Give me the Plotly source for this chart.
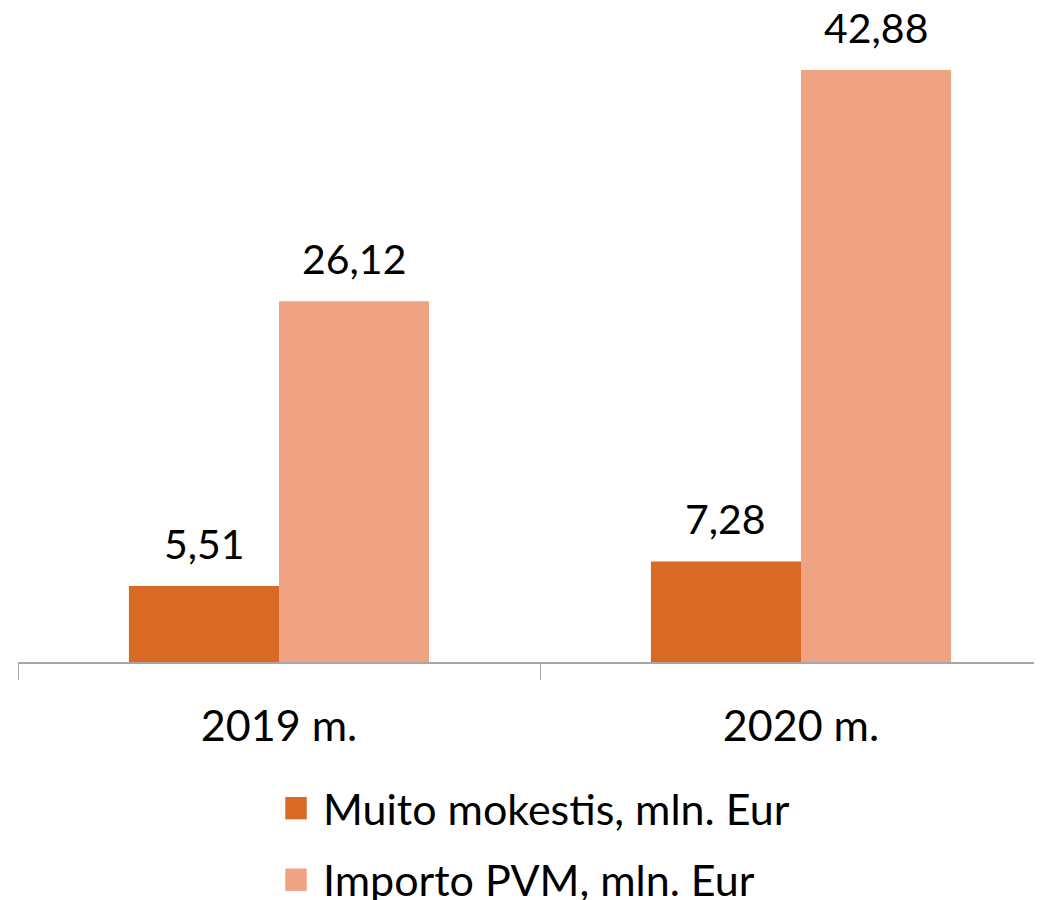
import plotly.graph_objects as go

years = ["2019 m.", "2020 m."]
muito = [5.51, 7.28]
importo = [26.12, 42.88]
series_names = ["Muito mokestis, mln. Eur", "Importo PVM, mln. Eur"]
series_colors = ["#D86A26", "#EFA383"]

FONT = "Lato"

fig = go.Figure()

for name, vals, color in zip(series_names, [muito, importo], series_colors):
    fig.add_trace(go.Bar(
        x=years,
        y=vals,
        name=name,
        marker=dict(color=color, line=dict(width=0)),
        showlegend=False
    ))

# value labels above bars (bar half-width is 75 px)
for shift, vals in zip([-75, 75], [muito, importo]):
    for yr, v in zip(years, vals):
        fig.add_annotation(
            x=yr, y=v, xref="x", yref="y",
            text=f"{v:.2f}".replace(".", ","),
            showarrow=False, yanchor="bottom", xshift=shift, yshift=16,
            font=dict(family=FONT, size=41, color="black")
        )

# legend drawn by hand so the swatches are the right size
legend_rows = [-0.235, -0.35]
for name, color, ly in zip(series_names, series_colors, legend_rows):
    fig.add_shape(
        type="rect", xref="paper", yref="paper",
        x0=0.261, x1=0.282, y0=ly - 0.018, y1=ly + 0.018,
        fillcolor=color, line=dict(width=0)
    )
    fig.add_annotation(
        x=0.296, y=ly, xref="paper", yref="paper",
        text=name, showarrow=False, xanchor="left", yanchor="middle",
        font=dict(family=FONT, size=43, color="black")
    )

# page body has an 8 px margin, so the figure is a bit smaller than the window
fig.update_layout(
    width=1034,
    height=892,
    margin=dict(l=10, r=0, t=32, b=238),
    paper_bgcolor="white",
    plot_bgcolor="white",
    barmode="group",
    bargap=0.425,
    bargroupgap=0,
    separators=",.",
    xaxis=dict(
        range=[-0.5, 1.4617],
        showline=True, linecolor="#A6A6A6", linewidth=1.5,
        ticks="outside", tickson="boundaries", ticklen=16, tickcolor="#A6A6A6",
        ticklabelstandoff=26,
        tickfont=dict(family=FONT, size=43, color="black"),
        showgrid=False
    ),
    yaxis=dict(range=[0, 45.05], visible=False, showgrid=False)
)

fig.write_html("out.html")
